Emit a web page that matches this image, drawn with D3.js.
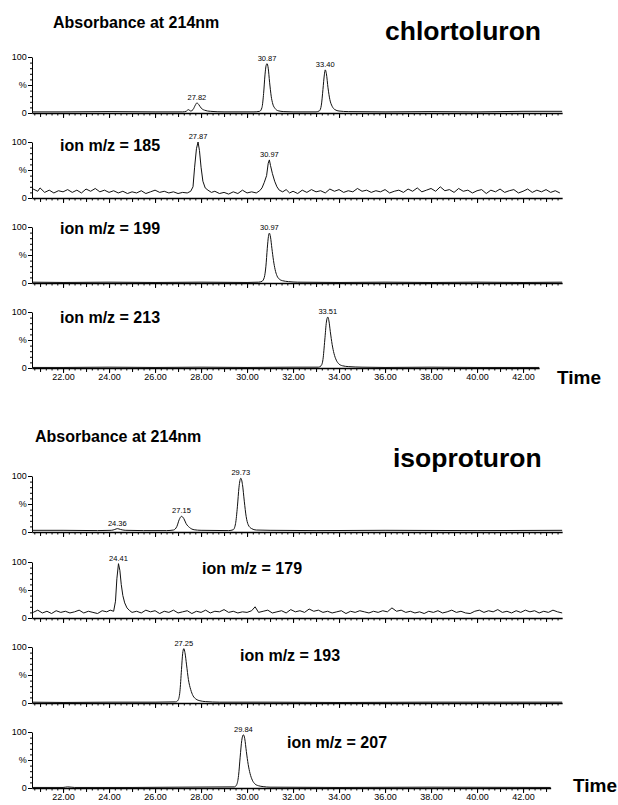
<!DOCTYPE html>
<html><head><meta charset="utf-8">
<script src="https://cdn.jsdelivr.net/npm/d3@7"></script>
<style>body{margin:0;background:#fff}svg{display:block}text{font-family:"Liberation Sans",Arial,sans-serif}</style>
</head><body><svg id="c" width="618" height="805"></svg>
<script>
// ---------------- DATA ----------------
const xTickValues = [22,24,26,28,30,32,34,36,38,40,42];
const xTickLabels = ["22.00","24.00","26.00","28.00","30.00","32.00","34.00","36.00","38.00","40.00","42.00"];
const yTickValues = [0,50,100];
const yTickLabels = ["0","%","100"];
const groupTitles = ["chlortoluron","isoproturon"];
const absorbanceTitle = "Absorbance at 214nm";
const axisTitle = "Time";
const panelLabels = ["","ion m/z = 185","ion m/z = 199","ion m/z = 213","","ion m/z = 179","ion m/z = 193","ion m/z = 207"];
const panelStartTime = 20.65;
const panelEndTimes = [43.7,43.7,43.7,42.7,43.7,43.7,43.7,43.2];

// chlortoluron, absorbance 214 nm
const traceChlAbs = [[20.65,2],[22,2],[24,2.5],[26,2],[27.2,2],[27.35,3],[27.45,6],[27.55,3.5],[27.65,6],[27.75,14],[27.82,18],[27.9,15],[28.0,9],[28.15,5],[28.4,3],[29,2],[30.3,2],[30.55,3],[30.65,10],[30.72,35],[30.78,68],[30.83,85],[30.87,88],[30.92,80],[30.98,55],[31.05,30],[31.12,16],[31.22,8],[31.35,4],[31.6,2.5],[32,2],[33.0,2],[33.15,4],[33.23,14],[33.3,42],[33.36,68],[33.40,77],[33.45,70],[33.52,45],[33.6,24],[33.7,12],[33.82,6],[34,3.5],[34.4,2.5],[36,2],[38,2.5],[40,2],[42,3],[43.7,3]];
const peaksChlAbs = [[27.82,18,"27.82"],[30.87,88,"30.87"],[33.40,77,"33.40"]];

// chlortoluron, ion m/z 185
const traceIon185 = [[20.7,16],[20.9,12],[21.0,18],[21.2,10],[21.4,14],[21.6,9],[21.8,13],[22.0,11],[22.2,15],[22.4,10],[22.6,14],[22.8,9],[23.0,16],[23.2,12],[23.4,17],[23.6,11],[23.8,14],[24.0,10],[24.2,13],[24.4,9],[24.6,12],[24.8,8],[25.0,11],[25.2,9],[25.4,13],[25.6,8],[25.8,11],[26.0,14],[26.2,10],[26.4,12],[26.6,9],[26.8,11],[27.0,8],[27.2,10],[27.4,9],[27.55,12],[27.65,20],[27.72,55],[27.8,88],[27.87,100],[27.93,85],[28.0,55],[28.08,30],[28.18,18],[28.3,14],[28.45,10],[28.6,12],[28.8,8],[29.0,10],[29.2,7],[29.4,11],[29.6,8],[29.8,14],[30.0,9],[30.2,11],[30.4,9],[30.55,13],[30.65,18],[30.75,28],[30.85,40],[30.92,62],[30.97,68],[31.02,58],[31.1,44],[31.2,30],[31.3,20],[31.4,14],[31.55,11],[31.7,15],[31.85,9],[32.0,12],[32.2,8],[32.4,14],[32.6,10],[32.8,15],[33.0,11],[33.2,13],[33.4,9],[33.6,16],[33.8,12],[34.0,15],[34.2,10],[34.4,13],[34.6,11],[34.8,17],[35.0,12],[35.2,14],[35.4,10],[35.6,13],[35.8,11],[36.0,15],[36.2,9],[36.4,12],[36.6,14],[36.8,10],[37.0,16],[37.2,12],[37.4,18],[37.6,11],[37.8,14],[38.0,17],[38.2,12],[38.4,20],[38.6,13],[38.8,15],[39.0,10],[39.2,17],[39.4,12],[39.6,14],[39.8,9],[40.0,13],[40.2,15],[40.4,8],[40.6,14],[40.8,11],[41.0,16],[41.2,10],[41.4,13],[41.6,15],[41.8,9],[42.0,12],[42.2,16],[42.4,10],[42.6,14],[42.8,11],[43.0,15],[43.2,10],[43.4,13],[43.6,9]];
const peaksIon185 = [[27.87,100,"27.87"],[30.97,68,"30.97"]];

// chlortoluron, ion m/z 199
const traceIon199 = [[20.65,1.5],[22,1],[24,1.5],[26,1],[28,1.5],[30,1],[30.5,1.5],[30.65,3],[30.75,10],[30.82,30],[30.88,62],[30.93,83],[30.97,89],[31.02,82],[31.08,62],[31.15,40],[31.22,24],[31.3,13],[31.4,7],[31.55,4],[31.8,2.5],[32.2,1.5],[34,1],[36,1.5],[38,1],[40,1.5],[42,1],[43.7,1.5]];
const peaksIon199 = [[30.97,89,"30.97"]];

// chlortoluron, ion m/z 213
const traceIon213 = [[20.65,1],[22,1],[24,1.5],[26,1],[28,1.5],[30,1],[32,1.5],[33.1,1.5],[33.22,4],[33.3,15],[33.38,50],[33.45,82],[33.51,91],[33.56,84],[33.62,65],[33.7,42],[33.78,26],[33.88,14],[34.0,7],[34.15,4],[34.4,2.5],[35,1.5],[36,1],[38,1.5],[40,1],[42.7,1]];
const peaksIon213 = [[33.51,91,"33.51"]];

// isoproturon, absorbance 214 nm
const traceIsoAbs = [[20.65,3],[22,3],[23.5,2.5],[24.1,3],[24.25,4.5],[24.36,6],[24.5,4.5],[24.7,3],[25.5,2.5],[26.5,2.5],[26.8,3.5],[26.95,10],[27.05,22],[27.15,28],[27.25,24],[27.35,15],[27.5,8],[27.7,4],[28,3],[29.2,2.5],[29.4,4],[29.5,15],[29.58,45],[29.65,80],[29.73,96],[29.8,85],[29.88,55],[29.96,28],[30.05,13],[30.2,6],[30.4,3.5],[31,3],[33,2.5],[36,3],[40,2.5],[43.7,3]];
const peaksIsoAbs = [[24.36,6,"24.36"],[27.15,28,"27.15"],[29.73,96,"29.73"]];

// isoproturon, ion m/z 179
const traceIon179 = [[20.7,10],[20.9,14],[21.1,9],[21.3,12],[21.5,8],[21.7,13],[21.9,10],[22.1,12],[22.3,9],[22.5,11],[22.7,14],[22.9,9],[23.1,12],[23.3,10],[23.5,8],[23.7,13],[23.9,11],[24.05,14],[24.2,12],[24.28,30],[24.34,70],[24.41,97],[24.47,85],[24.53,60],[24.6,40],[24.68,27],[24.78,18],[24.9,13],[25.0,10],[25.2,12],[25.4,9],[25.6,14],[25.8,11],[26.0,13],[26.2,8],[26.4,12],[26.6,10],[26.8,14],[27.0,9],[27.2,11],[27.4,13],[27.6,8],[27.8,12],[28.0,10],[28.2,14],[28.4,9],[28.6,12],[28.8,11],[29.0,15],[29.2,10],[29.4,12],[29.6,9],[29.8,11],[30.0,10],[30.2,13],[30.35,20],[30.5,10],[30.7,12],[30.9,14],[31.1,9],[31.3,11],[31.5,13],[31.7,9],[31.9,15],[32.1,11],[32.3,13],[32.5,10],[32.7,16],[32.9,12],[33.1,14],[33.3,10],[33.5,12],[33.7,9],[33.9,11],[34.1,13],[34.3,8],[34.5,12],[34.7,10],[34.9,13],[35.1,11],[35.3,9],[35.5,12],[35.7,10],[35.9,13],[36.1,11],[36.3,18],[36.5,12],[36.7,14],[36.9,10],[37.1,12],[37.3,9],[37.5,11],[37.7,8],[37.9,12],[38.1,10],[38.3,13],[38.5,9],[38.7,11],[38.9,14],[39.1,10],[39.3,12],[39.5,9],[39.7,8],[39.9,12],[40.1,14],[40.3,10],[40.5,13],[40.7,11],[40.9,15],[41.1,10],[41.3,12],[41.5,9],[41.7,13],[41.9,10],[42.1,14],[42.3,11],[42.5,13],[42.7,9],[42.9,12],[43.1,10],[43.3,14],[43.5,11],[43.7,9]];
const peaksIon179 = [[24.41,97,"24.41"]];

// isoproturon, ion m/z 193
const traceIon193 = [[20.65,1.5],[22,1],[24,1.5],[26,1.5],[26.9,2],[27.0,5],[27.08,20],[27.15,60],[27.2,88],[27.25,97],[27.3,90],[27.37,68],[27.45,42],[27.55,24],[27.65,13],[27.78,7],[27.95,4],[28.2,2.5],[28.8,1.5],[31,1.5],[34,1],[38,1.5],[43.7,1.5]];
const peaksIon193 = [[27.25,97,"27.25"]];

// isoproturon, ion m/z 207
const traceIon207 = [[20.65,1],[22.0,1],[22.2,2],[22.5,1],[25,1],[27,1.5],[29.45,2],[29.55,6],[29.63,22],[29.7,55],[29.77,85],[29.84,95],[29.9,88],[29.97,65],[30.05,42],[30.13,26],[30.23,14],[30.35,7],[30.5,4],[30.7,2.5],[31,1.5],[34,1],[38,1.5],[43.2,1]];
const peaksIon207 = [[29.84,95,"29.84"]];

// ---------------- LAYOUT ----------------
const svg = d3.select("#c");
const X0 = 32, PXMIN = 23, PH = 56;
const tops = [57,142,227,312,476,562,647,732];
const labelPos = [null,[60,151],[60,234],[60,323],null,[202,574],[240,661],[287,748]];
const traces = [traceChlAbs,traceIon185,traceIon199,traceIon213,traceIsoAbs,traceIon179,traceIon193,traceIon207];
const peaks = [peaksChlAbs,peaksIon185,peaksIon199,peaksIon213,peaksIsoAbs,peaksIon179,peaksIon193,peaksIon207];
const noisy = [false,true,false,false,false,true,false,false];
const showX = [false,false,false,true,false,false,false,true];

// titles
svg.append("text").attr("x",53).attr("y",28).attr("font-size",16).attr("font-weight","bold").text(absorbanceTitle);
svg.append("text").attr("x",35).attr("y",442).attr("font-size",16).attr("font-weight","bold").text(absorbanceTitle);
svg.append("text").attr("x",385).attr("y",40).attr("font-size",26.5).attr("font-weight","bold").text(groupTitles[0]);
svg.append("text").attr("x",393).attr("y",467).attr("font-size",26.5).attr("font-weight","bold").text(groupTitles[1]);
svg.append("text").attr("x",557).attr("y",384).attr("font-size",19).attr("font-weight","bold").text(axisTitle);
svg.append("text").attr("x",573).attr("y",792).attr("font-size",19).attr("font-weight","bold").text(axisTitle);

traces.forEach((tr,i)=>{
  const end = panelEndTimes[i];
  const x = d3.scaleLinear().domain([panelStartTime,end]).range([X0, X0+(end-panelStartTime)*PXMIN]);
  const top = tops[i], bot = top+PH;
  const y = d3.scaleLinear().domain([0,100]).range([bot,top]);
  const g = svg.append("g");

  // x axis: minor, per-minute and labelled ticks
  const minorVals = d3.range(Math.ceil(panelStartTime*4)/4, end+0.001, 0.25);
  const minuteVals = d3.range(21, end+0.001, 1);
  g.append("g").attr("transform",`translate(0,${bot})`)
    .call(d3.axisBottom(x).tickValues(minorVals).tickSize(2.5).tickSizeOuter(0).tickFormat(""))
    .call(a=>a.select(".domain").attr("stroke-width",1.3));
  g.append("g").attr("transform",`translate(0,${bot})`)
    .call(d3.axisBottom(x).tickValues(minuteVals).tickSize(4).tickSizeOuter(0).tickFormat(""))
    .call(a=>a.select(".domain").remove());
  const ax = g.append("g").attr("transform",`translate(0,${bot})`)
    .call(d3.axisBottom(x).tickValues(xTickValues.filter(v=>v<=end)).tickSize(5).tickSizeOuter(0)
      .tickFormat((d,k)=> showX[i] ? xTickLabels[xTickValues.indexOf(d)] : ""))
    .call(a=>a.select(".domain").remove());
  ax.selectAll("text").attr("font-size",9).attr("font-family","Liberation Sans, Arial, sans-serif").attr("dy","0.45em").attr("fill","#000");

  // y axis
  g.append("g").attr("transform",`translate(${X0},0)`)
    .call(d3.axisLeft(y).tickValues(d3.range(0,101,10)).tickSize(2).tickSizeOuter(0).tickFormat(""));
  const ay = g.append("g").attr("transform",`translate(${X0},0)`)
    .call(d3.axisLeft(y).tickValues(yTickValues).tickSize(4).tickSizeOuter(0).tickFormat((d,k)=>yTickLabels[k]))
    .call(a=>a.select(".domain").remove());
  ay.selectAll("text").attr("font-size",9).attr("font-family","Liberation Sans, Arial, sans-serif").attr("dx","0.2em").attr("fill","#000");

  // trace
  const line = d3.line().x(d=>x(d[0])).y(d=>y(d[1])).curve(noisy[i]? d3.curveLinear : d3.curveMonotoneX);
  g.append("path").datum(tr).attr("d",line).attr("fill","none").attr("stroke","#111").attr("stroke-width",1).attr("stroke-linejoin","round");

  // peak annotations
  g.selectAll(".pk").data(peaks[i]).join("text")
    .attr("x",d=>x(d[0])).attr("y",d=>y(d[1])-3).attr("text-anchor","middle").attr("font-size",7.5).text(d=>d[2]);

  if(labelPos[i]){
    g.append("text").attr("x",labelPos[i][0]).attr("y",labelPos[i][1]).attr("font-size",16).attr("font-weight","bold").text(panelLabels[i]);
  }
});
</script></body></html>
